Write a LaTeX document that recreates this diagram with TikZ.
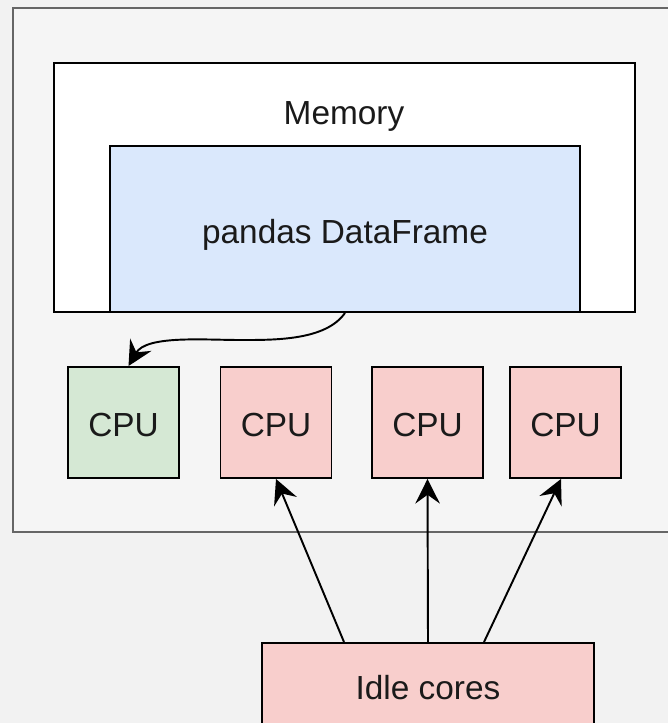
\documentclass[tikz,border=0pt]{standalone}
\usepackage{fontspec}
\setmainfont{Liberation Sans}
\usetikzlibrary{arrows.meta}
\definecolor{bggray}{HTML}{F2F2F2}
\definecolor{framegray}{HTML}{666666}
\definecolor{dfblue}{HTML}{DAE8FC}
\definecolor{cpugreen}{HTML}{D5E8D4}
\definecolor{cpured}{HTML}{F8CECC}
\definecolor{txtdark}{HTML}{1A1A1A}

\begin{document}
\begin{tikzpicture}[x=0.02cm, y=-0.02cm,
    every node/.style={font=\fontsize{19}{23}\selectfont, text=txtdark,
                       text height=16pt, text depth=0pt},
    box/.style={draw=black, line width=1.1pt, inner sep=0pt},
    cpubox/.style={box, minimum width=2.22cm, minimum height=2.22cm},
    arr/.style={line width=1.1pt, -{Stealth[length=14pt, width=14pt, inset=5pt]}}]
  \useasboundingbox (0,0) rectangle (668,723);
  \fill [bggray] (0,0) rectangle (668,723);
  \clip (0,0) rectangle (668,723);

  \node (frame) [draw=framegray, line width=1.1pt, fill=bggray!80!white,
                 minimum width=13.6cm, minimum height=10.48cm] at (353,270) {};
  \node (mem) [box, fill=white, minimum width=11.62cm, minimum height=4.98cm] at (344.5,187.5) {};
  \node (memtxt) at (344,110) {Memory};
  \node (dfm) [box, fill=dfblue, minimum width=9.4cm, minimum height=3.32cm] at (345,229) {pandas DataFrame};

  \node (cpu1) [cpubox, fill=cpugreen] at (123.5,422.5) {CPU};
  \node (cpu2) [cpubox, fill=cpured] at (276,422.5) {CPU};
  \node (cpu3) [cpubox, fill=cpured] at (427.5,422.5) {CPU};
  \node (cpu4) [cpubox, fill=cpured] at (565.5,422.5) {CPU};

  \node (idle) [box, fill=cpured, minimum width=6.64cm, minimum height=1.9cm] at (428,690.5) {};
  \node (idletxt) at (428,685) {Idle cores};

  \coordinate (bend) at (240,340);
  \draw [arr] (dfm.south) to[out=-125, in=0, looseness=0.8] (bend)
                          to[out=180, in=60, looseness=0.8] ([xshift=0.1cm]cpu1.north);

  \draw [arr] ([xshift=-1.68cm]idle.north) -- (cpu2.south);
  \draw [arr] (idle.north) -- (cpu3.south);
  \draw [arr] ([xshift=1.12cm]idle.north) -- ([xshift=-0.09cm]cpu4.south);
\end{tikzpicture}
\end{document}
